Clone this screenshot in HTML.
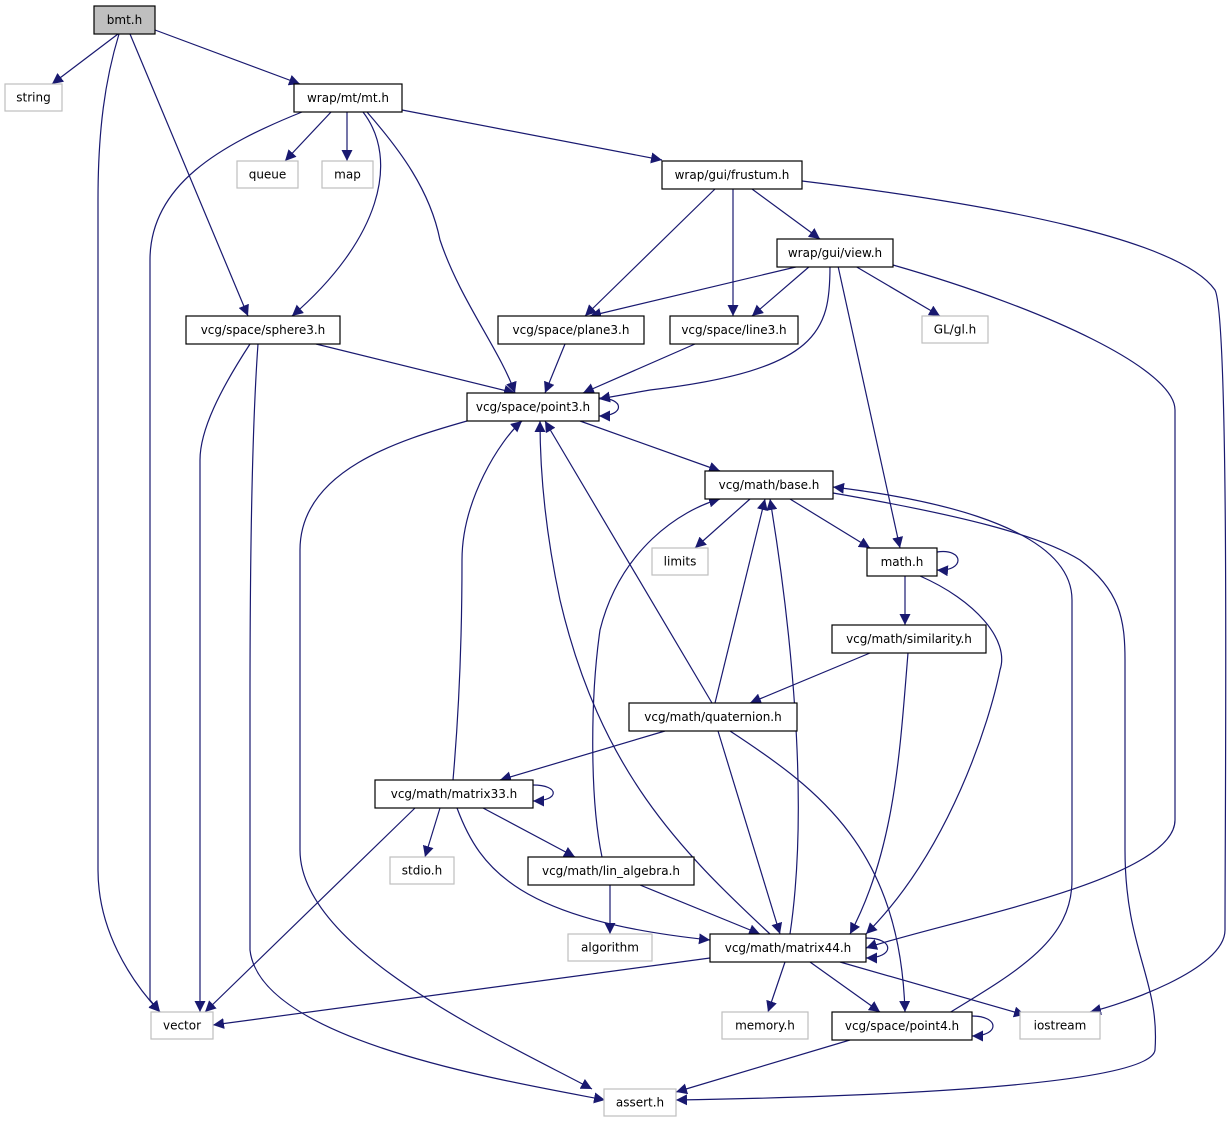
<!DOCTYPE html>
<html><head><meta charset="utf-8"><style>
body{margin:0;background:#fff;}
svg{display:block;font-family:"DejaVu Sans","Liberation Sans",sans-serif;font-size:12px;}
.n rect{fill:#fff;stroke:#000;stroke-width:1.2}
.g rect{fill:#fff;stroke:#bfbfbf;stroke-width:1.2}
.e{fill:none;stroke:#191970;stroke-width:1.2;marker-end:url(#a)}
text{text-anchor:middle;dominant-baseline:central;fill:#000}
</style></head><body>
<svg width="1231" height="1123" viewBox="0 0 1231 1123">
<defs><marker id="a" viewBox="0 0 10 10" refX="10" refY="5" markerWidth="11" markerHeight="11" markerUnits="userSpaceOnUse" orient="auto"><path d="M0,0 L10,5 L0,10 z" fill="#191970"/></marker></defs>
<g>
<path class="e" d="M118,34 L52,84"/>
<path class="e" d="M119,34 C105,80 98,130 98,200 L98,870 C98,930 130,980 160,1012"/>
<path class="e" d="M130,34 L248,316"/>
<path class="e" d="M155,30 L300,84"/>
<path class="e" d="M332,111 L285,161"/>
<path class="e" d="M347,111 L347,161"/>
<path class="e" d="M302,112 C220,145 150,185 150,260 L150,1000 L160,1012"/>
<path class="e" d="M363,112 C400,160 380,240 292,316"/>
<path class="e" d="M367,112 C400,150 430,190 440,240 C460,300 500,350 515,393"/>
<path class="e" d="M402,110 L662,160"/>
<path class="e" d="M752,189 L820,239"/>
<path class="e" d="M733,189 L733,316"/>
<path class="e" d="M715,189 L585,316"/>
<path class="e" d="M802,181 C1000,205 1180,240 1215,290 C1230,320 1225,800 1225,930 C1225,970 1120,1005 1090,1012"/>
<path class="e" d="M800,266 L590,316"/>
<path class="e" d="M810,266 L752,316"/>
<path class="e" d="M855,266 L940,316"/>
<path class="e" d="M838,266 L900,548"/>
<path class="e" d="M830,266 C830,330 820,370 650,390 L599,399"/>
<path class="e" d="M893,265 C1050,310 1175,370 1175,410 L1175,820 C1175,880 950,920 866,948"/>
<path class="e" d="M250,344 C220,390 200,430 200,460 L200,1012"/>
<path class="e" d="M258,344 C254,400 250,500 250,700 L250,950 C260,1040 500,1080 605,1100"/>
<path class="e" d="M316,344 L515,393"/>
<path class="e" d="M565,344 L545,393"/>
<path class="e" d="M695,344 L583,393"/>
<path class="e" d="M599,398 C625,398 625,416 599,416"/>
<path class="e" d="M580,421 L720,471"/>
<path class="e" d="M467,421 C400,440 300,470 300,550 L300,850 C300,950 500,1040 592,1089"/>
<path class="e" d="M750,499 L695,548"/>
<path class="e" d="M790,499 L870,548"/>
<path class="e" d="M905,1040 C1000,980 1072,950 1072,880 L1072,600 C1072,520 900,495 833,487"/>
<path class="e" d="M833,493 C960,515 1040,535 1080,560 C1120,590 1125,620 1125,660 L1125,850 C1125,950 1160,980 1155,1050 C1150,1090 800,1098 676,1100"/>
<path class="e" d="M937,552 C965,548 965,572 937,570"/>
<path class="e" d="M905,576 L905,625"/>
<path class="e" d="M920,576 C975,600 1010,640 1000,670 C990,720 950,850 866,934"/>
<path class="e" d="M870,653 L750,703"/>
<path class="e" d="M908,653 C900,750 895,850 850,934"/>
<path class="e" d="M712,703 L545,421"/>
<path class="e" d="M715,703 L765,499"/>
<path class="e" d="M665,731 L500,780"/>
<path class="e" d="M718,731 L780,934"/>
<path class="e" d="M730,731 C820,790 900,850 905,1012"/>
<path class="e" d="M533,785 C560,785 560,801 533,801"/>
<path class="e" d="M453,780 C460,700 462,620 462,560 C462,500 500,440 522,421"/>
<path class="e" d="M440,808 L425,857"/>
<path class="e" d="M483,808 L575,857"/>
<path class="e" d="M457,808 C480,870 520,920 710,940"/>
<path class="e" d="M415,808 L205,1012"/>
<path class="e" d="M602,857 C590,800 590,700 600,630 C620,550 680,510 720,499"/>
<path class="e" d="M610,885 L610,934"/>
<path class="e" d="M640,885 L760,934"/>
<path class="e" d="M770,934 C680,850 600,770 560,600 C545,530 540,470 540,421"/>
<path class="e" d="M790,934 C810,800 790,620 770,499"/>
<path class="e" d="M866,938 C895,938 895,958 866,958"/>
<path class="e" d="M710,958 L213,1025"/>
<path class="e" d="M785,962 L768,1012"/>
<path class="e" d="M810,962 L880,1012"/>
<path class="e" d="M840,962 L1025,1015"/>
<path class="e" d="M972,1016 C1000,1016 1000,1036 972,1036"/>
<path class="e" d="M850,1040 L676,1092"/>
</g>
<g class="n"><rect x="94" y="6" width="61" height="28" style="fill:#bfbfbf"/><text x="124.5" y="20">bmt.h</text></g>
<g class="g"><rect x="5" y="84" width="57" height="27"/><text x="33.5" y="97.5">string</text></g>
<g class="n"><rect x="294" y="84" width="108" height="28"/><text x="348" y="98">wrap/mt/mt.h</text></g>
<g class="g"><rect x="237" y="161" width="61" height="27"/><text x="267.5" y="174.5">queue</text></g>
<g class="g"><rect x="322" y="161" width="51" height="27"/><text x="347.5" y="174.5">map</text></g>
<g class="n"><rect x="662" y="161" width="140" height="28"/><text x="732" y="175">wrap/gui/frustum.h</text></g>
<g class="n"><rect x="777" y="239" width="116" height="28"/><text x="835" y="253">wrap/gui/view.h</text></g>
<g class="n"><rect x="186" y="316" width="154" height="28"/><text x="263" y="330">vcg/space/sphere3.h</text></g>
<g class="n"><rect x="498" y="316" width="146" height="28"/><text x="571" y="330">vcg/space/plane3.h</text></g>
<g class="n"><rect x="670" y="316" width="128" height="28"/><text x="734" y="330">vcg/space/line3.h</text></g>
<g class="g"><rect x="922" y="316" width="66" height="27"/><text x="955" y="329.5">GL/gl.h</text></g>
<g class="n"><rect x="467" y="393" width="132" height="28"/><text x="533" y="407">vcg/space/point3.h</text></g>
<g class="n"><rect x="705" y="471" width="128" height="28"/><text x="769" y="485">vcg/math/base.h</text></g>
<g class="g"><rect x="652" y="548" width="56" height="27"/><text x="680" y="561.5">limits</text></g>
<g class="n"><rect x="867" y="548" width="70" height="28"/><text x="902" y="562">math.h</text></g>
<g class="n"><rect x="832" y="625" width="154" height="28"/><text x="909" y="639">vcg/math/similarity.h</text></g>
<g class="n"><rect x="629" y="703" width="168" height="28"/><text x="713" y="717">vcg/math/quaternion.h</text></g>
<g class="n"><rect x="375" y="780" width="158" height="28"/><text x="454" y="794">vcg/math/matrix33.h</text></g>
<g class="g"><rect x="390" y="857" width="64" height="27"/><text x="422" y="870.5">stdio.h</text></g>
<g class="n"><rect x="528" y="857" width="166" height="28"/><text x="611" y="871">vcg/math/lin_algebra.h</text></g>
<g class="g"><rect x="568" y="934" width="84" height="27"/><text x="610" y="947.5">algorithm</text></g>
<g class="n"><rect x="710" y="934" width="156" height="28"/><text x="788" y="948">vcg/math/matrix44.h</text></g>
<g class="g"><rect x="151" y="1012" width="62" height="27"/><text x="182" y="1025.5">vector</text></g>
<g class="g"><rect x="722" y="1012" width="86" height="27"/><text x="765" y="1025.5">memory.h</text></g>
<g class="n"><rect x="832" y="1012" width="140" height="28"/><text x="902" y="1026">vcg/space/point4.h</text></g>
<g class="g"><rect x="1020" y="1012" width="80" height="27"/><text x="1060" y="1025.5">iostream</text></g>
<g class="g"><rect x="604" y="1089" width="72" height="27"/><text x="640" y="1102.5">assert.h</text></g>
</svg>
</body></html>
